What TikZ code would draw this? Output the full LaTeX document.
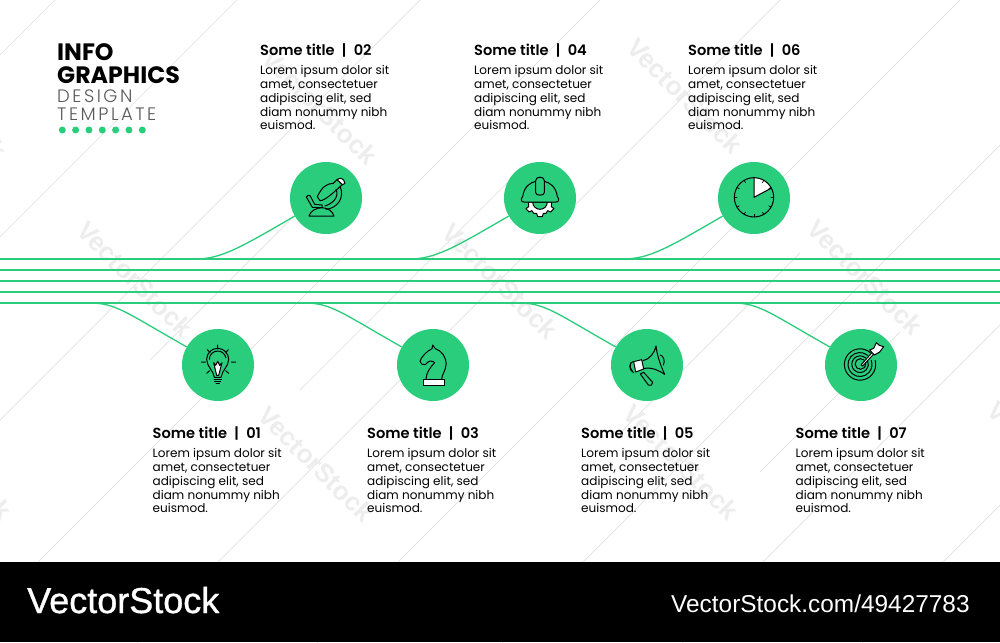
\documentclass[tikz,border=0pt]{standalone}
\usepackage{fontspec}
\usetikzlibrary{calc}
\setmainfont{Poppins}
\newfontfamily\semi{Poppins SemiBold}
\newfontfamily\lite[LetterSpace=14]{Poppins Light}
\newfontfamily\foot{Liberation Sans}
\newfontfamily\footb[FakeBold=1]{Liberation Sans}
\definecolor{grn}{HTML}{2ACD7C}
\definecolor{wm}{HTML}{EDEDED}
\definecolor{dg}{HTML}{E2E2E2}
\tikzset{
 x=1pt,y=-1pt,
 badge/.style={circle,fill=grn,draw=none,minimum size=72pt,inner sep=0pt},
 rail/.style={draw=grn,line width=1.5pt},
 link/.style={draw=grn,line width=1.3pt},
 ttl/.style={anchor=base west,inner sep=0pt,font=\semi\fontsize{14.6}{16}\selectfont},
 txt/.style={anchor=north west,inner sep=0pt,align=left,font=\fontsize{12.05}{13.9}\selectfont},
 head/.style={anchor=base west,inner sep=0pt,font=\bfseries\fontsize{23.7}{25}\selectfont},
 sub/.style={anchor=base west,inner sep=0pt,text=black!65,font=\lite\fontsize{18}{20}\selectfont},
 ico/.style={draw=black,line width=1pt,line join=round,line cap=round},
 icow/.style={ico,fill=white},
 dot/.style={circle,fill=grn,minimum size=7pt,inner sep=0pt},
 wmark/.style={text=wm,rotate=-45,inner sep=0pt,font=\foot\bfseries\fontsize{26}{26}\selectfont},
 diag/.style={draw=dg,line width=0.7pt},
 ftxt/.style={text=white,inner sep=0pt,anchor=base west},
}
\newcommand{\bodytext}{Lorem ipsum dolor sit\\amet, consectetuer\\adipiscing elit, sed\\diam nonummy nibh\\euismod.}
\begin{document}
\begin{tikzpicture}
\useasboundingbox (0,0) rectangle (1000,642);
\fill[white] (0,0) rectangle (1000,642);
% faint diagonal lines
\foreach \s in {55,237,420,600,780,960,1145,1325,1505}{
  \draw[diag] (\s,0) -- (0,\s);
}
\foreach \s/\a/\b in {510/343/150,690/520/300,1053/800/620,1232/900/760}{
  \pgfmathsetmacro\ya{\s-\a}\pgfmathsetmacro\yb{\s-\b}
  \draw[diag] (\a,\ya) -- (\b,\yb);
}
% watermarks
\foreach \x/\y in {320/107,135/279,500/281,685/96,865/277,316/464,681/462}{
  \node[wmark] at (\x,\y) {VectorStock};
}
\node[wmark] at (-3,150) {k};
\node[wmark] at (2,510) {k};
\node[wmark] at (998,412) {V};
% rails
\coordinate (La) at (0,259);   \coordinate (Ra) at (1000,259);
\coordinate (Lb) at (0,270);   \coordinate (Rb) at (1000,270);
\coordinate (Lc) at (0,281);   \coordinate (Rc) at (1000,281);
\coordinate (Ld) at (0,292);   \coordinate (Rd) at (1000,292);
\coordinate (Le) at (0,303);   \coordinate (Re) at (1000,303);
% badges
\node[badge] (c1) at (218,365) {};
\node[badge] (c2) at (326,198) {};
\node[badge] (c3) at (433,365) {};
\node[badge] (c4) at (540,198) {};
\node[badge] (c5) at (647,365) {};
\node[badge] (c6) at (754,198) {};
\node[badge] (c7) at (861,365) {};
\draw[rail] (La) -- (Ra);
\draw[rail] (Lb) -- (Rb);
\draw[rail] (Lc) -- (Rc);
\draw[rail] (Ld) -- (Rd);
\draw[rail] (Le) -- (Re);
% connectors
\foreach \n/\x in {1/90,3/305,5/519,7/733}{
  \coordinate (j\n) at (\x,303);
  \draw[link] (j\n) .. controls +(26,0) and +(-60,-34) .. (c\n.150);
}
\foreach \n/\x in {2/195,4/409,6/623}{
  \coordinate (j\n) at (\x,259);
  \draw[link] (j\n) .. controls +(26,0) and +(-55,32) .. (c\n.210);
}
% head
\node[head] (h1) at (57,60) {INFO};
\node[head] (h2) at (57,83) {GRAPHICS};
\node[sub] (h3) at (57,102) {DESIGN};
\node[sub] (h4) at (57,120.5) {TEMPLATE};
\foreach \k in {0,...,6}{ \node[dot] (d\k) at (62.3+13.33*\k,130) {}; }
% texts
\foreach \x/\n in {260/02,474/04,688/06}{
  \node[ttl] (t\n) at (\x,56) {Some title\hspace{0.5em}|\hspace{0.5em}\n};
  \node[txt] (b\n) at (\x,65) {\bodytext};
}
\foreach \x/\n in {152.5/01,367/03,581/05,795.5/07}{
  \node[ttl] (t\n) at (\x,438.5) {Some title\hspace{0.5em}|\hspace{0.5em}\n};
  \node[txt] (b\n) at (\x,448) {\bodytext};
}
% icon 1 bulb
\begin{scope}[shift={(175,320)},scale=1/3]
\draw[ico] (118,172) .. controls (115,150) and (95,140) .. (95,118) arc[start angle=180,end angle=360,radius=33] .. controls (161,140) and (141,150) .. (138,172) -- cycle;
\draw[ico] (103,118) arc[start angle=180,end angle=350,radius=25];
\draw[icow] (116,128) -- (122,136) -- (128,124) -- (134,136) -- (141,128) -- (131,166) -- (125,166) -- cycle;
\draw[ico] (117,177)--(139,177) (119,183)--(137,183) (123,190)--(133,190);
\draw[ico] (128,75)--(128,87) (97,89)--(105,98) (160,89)--(152,98) (79,126)--(91,126) (169,126)--(182,126) (95,160)--(104,152) (161,160)--(152,152);
\end{scope}
% icon 2 microscope
\begin{scope}[shift={(280,150)},scale=1/3]
\draw[ico] (87,198) .. controls (92,182) and (108,174) .. (126,173) .. controls (145,174) and (158,184) .. (162,198) -- cycle;
\draw[ico] (84,136) -- (79,141) -- (97,172) -- (126,173) -- (126,165) -- (104,163) -- (90,137) -- cycle;
\draw[ico] (180,108) .. controls (196,145) and (170,175) .. (138,178);
\draw[ico] (168,118) .. controls (178,140) and (160,160) .. (135,168);
\draw[ico] (172,88) -- (160,100) .. controls (140,100) and (125,112) .. (112,140) -- (120,152) .. controls (135,152) and (160,128) .. (187,104) -- cycle;
\draw[icow] (172,90) .. controls (176,82) and (192,82) .. (195,100) -- (187,104) .. controls (182,98) and (176,94) .. (172,90) -- cycle;
\end{scope}
% icon 3 knight
\begin{scope}[shift={(390,320)},scale=1/3]
\draw[ico] (108,178) .. controls (108,160) and (120,142) .. (134,128) .. controls (125,120) and (115,122) .. (106,134) .. controls (100,136) and (90,132) .. (90,124) .. controls (92,112) and (112,92) .. (126,86) -- (128,75) -- (136,86) .. controls (155,92) and (170,112) .. (168,135) .. controls (167,152) and (155,165) .. (155,178);
\draw[icow] (100,179) rectangle (163,195);
\end{scope}
% icon 4 hard hat
\begin{scope}[shift={(500,150)},scale=1/3]
\draw[icow] (85,156) -- (155,156) -- (154,170) -- (162,176) -- (152,186) -- (143,182) -- (138,190) -- (130,190) -- (127,200) -- (113,200) -- (110,190) -- (101,190) -- (96,182) -- (87,186) -- (78,176) -- (86,170) -- cycle;
\draw[ico,fill=grn] (98,156) arc[start angle=180,end angle=0,radius=22] -- cycle;
\draw[ico,fill=grn] (72,156) .. controls (62,156) and (62,146) .. (68,140) .. controls (72,110) and (90,98) .. (107,94) -- (133,94) .. controls (150,98) and (168,110) .. (172,140) .. controls (178,146) and (178,156) .. (168,156) -- cycle;
\draw[ico,fill=grn] (107,92) .. controls (107,78) and (133,78) .. (133,92) -- (133,128) .. controls (133,138) and (107,138) .. (107,128) -- cycle;
\end{scope}
% icon 5 megaphone
\begin{scope}[shift={(603,320)},scale=1/3]
\draw[ico] (172,105) .. controls (180,105) and (188,125) .. (181,135);
\draw[ico] (120,122) .. controls (140,118) and (155,98) .. (159,78) .. controls (162,105) and (172,135) .. (185,163) .. controls (165,150) and (145,140) .. (122,146);
\draw[ico] (92,124) .. controls (78,125) and (75,150) .. (92,158);
\draw[ico] (84,128) .. controls (80,138) and (82,148) .. (88,154);
\draw[icow] (92,125) -- (116,119) -- (122,147) -- (98,156) -- cycle;
\draw[ico] (112,162) -- (122,157) -- (149,187) .. controls (150,195) and (142,199) .. (136,195) -- cycle;
\end{scope}
% icon 6 clock
\begin{scope}[shift={(710,150)},scale=1/3]
\fill[white] (132,142) -- (132,84) arc[start angle=-90,end angle=-28,radius=58] -- cycle;
\draw[ico] (132,142) circle[radius=59];
\draw[ico] (132,84) -- (132,142) -- (183,115);
\foreach \a in {30,60,...,330}{
  \draw[ico,line width=0.7pt] ($(132,142)+({sin(\a)*59},{-cos(\a)*59})$) -- ($(132,142)+({sin(\a)*51},{-cos(\a)*51})$);
}
\end{scope}
% icon 7 target
\begin{scope}[shift={(817,320)},scale=1/3]
\draw[ico] (160,98) arc[start angle=-49,end angle=-375,radius=47];
\draw[ico] (152,106) arc[start angle=-50,end angle=-380,radius=36];
\draw[ico] (146,114) arc[start angle=-48,end angle=-385,radius=25];
\draw[ico] (141,120) arc[start angle=-48,end angle=-390,radius=16];
\draw[icow] (132,135) -- (170,92) -- (175,97) -- (137,138) -- cycle;
\draw[icow] (158,90) -- (170,85) -- (178,68) -- (187,76) -- (200,80) -- (188,96) -- (172,105) -- cycle;
\end{scope}
% footer
\fill[black] (0,562) rectangle (1000,642);
\node[ftxt,font=\footb\fontsize{36}{36}\selectfont] (f1) at (27,613) {VectorStock};
\node[ftxt,font=\foot\fontsize{24.4}{25}\selectfont] (f2) at (671,612) {VectorStock.com/49427783};
\end{tikzpicture}
\end{document}
